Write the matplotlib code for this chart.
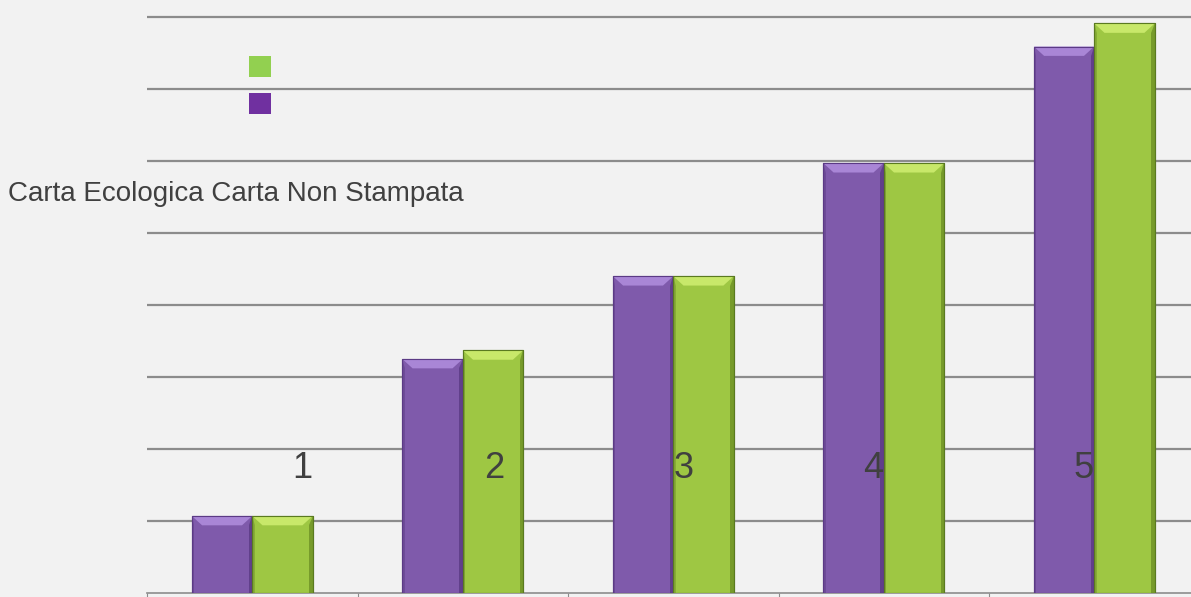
import matplotlib.pyplot as plt
import numpy as np
from matplotlib.patches import Polygon, Rectangle

# data
categories = ["1", "2", "3", "4", "5"]
carta_ecologica = [1.07, 3.25, 4.40, 5.97, 7.59]
carta_non_stampata = [1.07, 3.37, 4.40, 5.97, 7.91]
label_offsets = [0.24, 0.15, 0.05, -0.05, -0.05]
title_text = "Carta Ecologica Carta Non Stampata"

BG = "#f2f2f2"
GRID = "#8c8c8c"
PX = 210.5  # pixels per category


def bevel_bar(ax, x0, w, h, face, light, dark, edge):
    # plain body
    ax.add_patch(Rectangle((x0, 0), w, h, facecolor=face, edgecolor=edge, lw=0.8, zorder=3))
    # bevel sizes in data units
    bx = w * 0.17
    by = 0.13
    if h < 2 * by:
        by = h / 3
    # top face, lighter
    ax.add_patch(Polygon([(x0, h), (x0 + w, h), (x0 + w - bx, h - by), (x0 + bx, h - by)],
                         closed=True, facecolor=light, edgecolor="none", zorder=4))
    # right side, darker
    ax.add_patch(Polygon([(x0 + w, h), (x0 + w, 0), (x0 + w - bx * 0.35, 0), (x0 + w - bx * 0.35, h - by)],
                         closed=True, facecolor=dark, edgecolor="none", zorder=4, alpha=0.6))
    # left side, slightly darker
    ax.add_patch(Polygon([(x0, h), (x0, 0), (x0 + bx * 0.25, 0), (x0 + bx * 0.25, h - by)],
                         closed=True, facecolor=dark, edgecolor="none", zorder=4, alpha=0.35))
    ax.add_patch(Rectangle((x0, 0), w, h, facecolor="none", edgecolor=edge, lw=0.8, zorder=5))


fig = plt.figure(figsize=(11.91, 5.97), dpi=100, facecolor=BG)
ax = fig.add_axes([147 / 1191, 4 / 597, 1 - 147 / 1191, 593 / 597])
ax.set_facecolor(BG)

x = np.arange(len(categories))
w = 0.287
for i in range(len(categories)):
    bevel_bar(ax, x[i] - w, w, carta_ecologica[i], "#7f5aab", "#a986d6", "#4e2f77", "#5b3a85")
    bevel_bar(ax, x[i], w, carta_non_stampata[i], "#9ec743", "#c8e86a", "#5d7f1c", "#5a7a20")
    ax.text(x[i] + label_offsets[i], 1.73, categories[i], fontsize=26, color="#404040",
            ha="center", va="center", family=["Liberation Sans", "DejaVu Sans"], zorder=6)

ax.set_yticks(np.arange(1, 9))
ax.yaxis.grid(True, color=GRID, lw=1.6)
ax.set_axisbelow(True)
ax.tick_params(axis="y", left=False, labelleft=False)
ax.set_xticks([-0.5] + list(np.arange(len(categories) - 1) + 0.5))
ax.tick_params(axis="x", direction="out", length=5, color=GRID, labelbottom=False)
ax.set_xlim(-0.5, -0.5 + 1044 / PX)
ax.set_ylim(0, 593 / 72)
for s in ["top", "right", "left"]:
    ax.spines[s].set_visible(False)
ax.spines["bottom"].set_color(GRID)
ax.spines["bottom"].set_linewidth(1.2)

# legend squares
fig.patches.append(Rectangle((249 / 1191, 1 - 77 / 597), 22 / 1191, 21 / 597,
                             transform=fig.transFigure, facecolor="#92d050", edgecolor="none"))
fig.patches.append(Rectangle((249 / 1191, 1 - 114 / 597), 22 / 1191, 21 / 597,
                             transform=fig.transFigure, facecolor="#7030a0", edgecolor="none"))

fig.text(8 / 1191, 1 - 194 / 597, title_text, fontsize=20, color="#404040", ha="left", va="center",
         family=["Liberation Sans", "DejaVu Sans"])

fig.savefig("out.png", dpi=100, facecolor=BG)
